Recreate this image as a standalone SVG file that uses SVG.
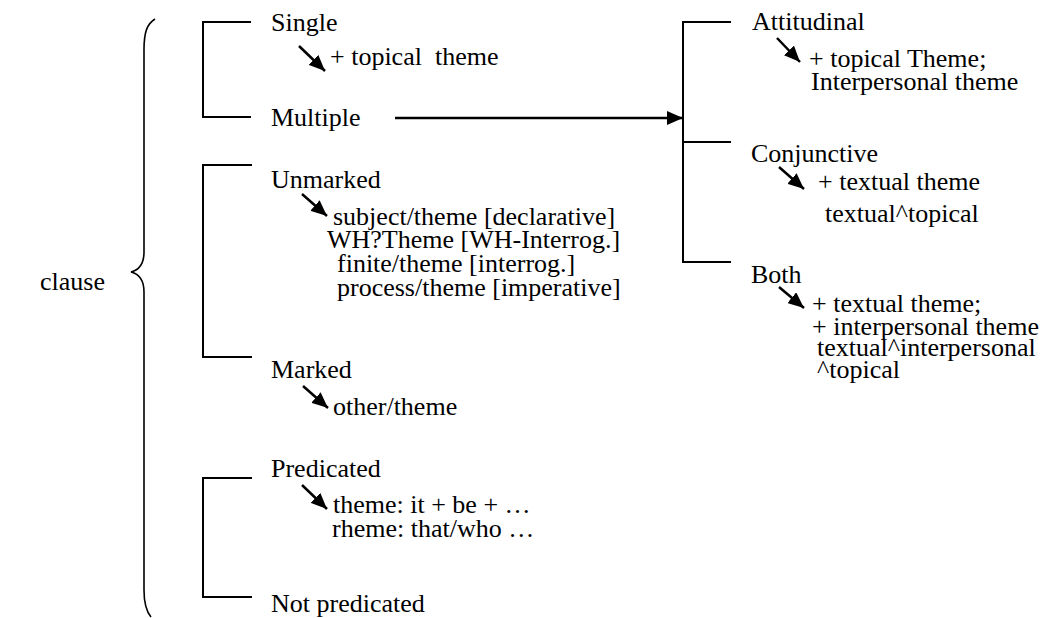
<svg xmlns="http://www.w3.org/2000/svg" width="1045" height="618" viewBox="0 0 1045 618">
<style>
text{font-family:"Liberation Serif","Times New Roman","DejaVu Serif",serif;font-size:26px;fill:#000}
.ln{stroke:#000;stroke-width:2;fill:none}
.ar{stroke:#000;stroke-width:2.5;fill:none;marker-end:url(#ah)}
</style>
<defs>
<marker id="ah" markerUnits="userSpaceOnUse" markerWidth="16" markerHeight="14" refX="16" refY="7" orient="auto">
<path d="M0,0 L16,7 L0,14 z" fill="#000"/>
</marker>
</defs>
<rect width="1045" height="618" fill="#fff"/>
<g id="clause">
<text x="40" y="290">clause</text>
<path class="ln" style="stroke-width:1.6" d="M155,19 C147,24 144,32 144,50 L144,252 C144,264 139,270 131,272 C139,274 144,280 144,292 L144,590 C144,604 146,611 151,617"/>
</g>
<g id="connectors">
<path class="ln" d="M251,22 H203 V117 H251"/>
<path class="ln" d="M252,165 H203 V357 H252"/>
<path class="ln" d="M252,478 H203 V597 H252"/>
<path class="ln" d="M731,22 H683 V262 H731 M683,142 H731"/>
<line class="ar" x1="395" y1="118" x2="683" y2="118"/>
<line class="ar" x1="299" y1="46" x2="325" y2="71"/>
<line class="ar" x1="302" y1="194" x2="327" y2="216"/>
<line class="ar" x1="303" y1="386" x2="328" y2="408"/>
<line class="ar" x1="302" y1="485" x2="327" y2="509"/>
<line class="ar" x1="777" y1="38" x2="800" y2="62"/>
<line class="ar" x1="779" y1="167" x2="804" y2="189"/>
<line class="ar" x1="779" y1="287" x2="804" y2="308"/>
</g>
<g id="single">
<text x="271" y="31">Single</text>
<text x="330" y="65" xml:space="preserve">+ topical  theme</text>
</g>
<g id="multiple"><text x="271" y="126">Multiple</text></g>
<g id="unmarked">
<text x="271" y="188">Unmarked</text>
<text x="333" y="225">subject/theme [declarative]</text>
<text x="327" y="248">WH?Theme [WH-Interrog.]</text>
<text x="337" y="272">finite/theme [interrog.]</text>
<text x="337" y="296">process/theme [imperative]</text>
</g>
<g id="marked">
<text x="271" y="378">Marked</text>
<text x="333" y="415">other/theme</text>
</g>
<g id="predicated">
<text x="271" y="477">Predicated</text>
<text x="333" y="513">theme: it + be + …</text>
<text x="332" y="537">rheme: that/who …</text>
</g>
<g id="notpredicated"><text x="271" y="612">Not predicated</text></g>
<g id="attitudinal">
<text x="752" y="30">Attitudinal</text>
<text x="809" y="67">+ topical Theme;</text>
<text x="811" y="90">Interpersonal theme</text>
</g>
<g id="conjunctive">
<text x="751" y="162">Conjunctive</text>
<text x="818" y="190">+ textual theme</text>
<text x="825" y="222">textual^topical</text>
</g>
<g id="both">
<text x="751" y="283">Both</text>
<text x="812" y="312">+ textual theme;</text>
<text x="812" y="335">+ interpersonal theme</text>
<text x="817" y="356">textual^interpersonal</text>
<text x="817" y="378">^topical</text>
</g>
</svg>
